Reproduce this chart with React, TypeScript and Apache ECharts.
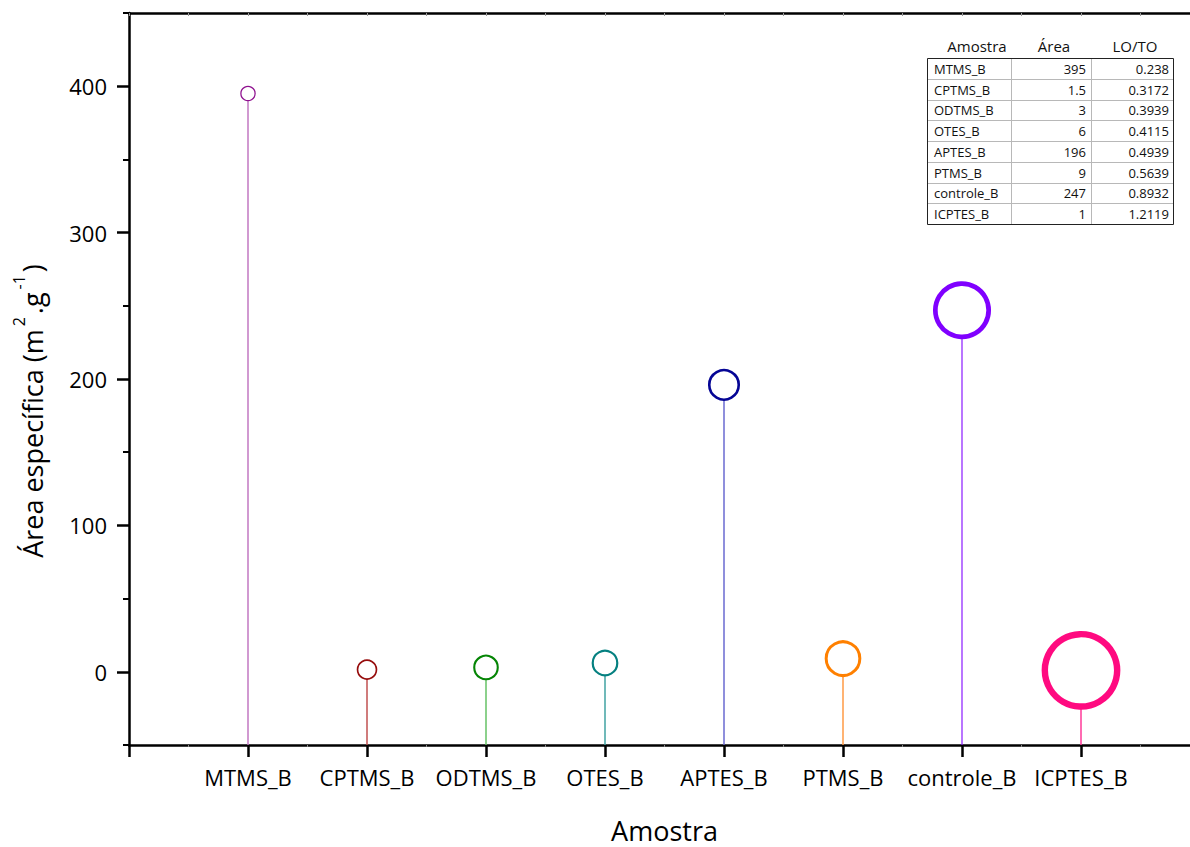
import React, { useEffect, useRef } from "react";
import * as echarts from "echarts";

const categories = ["MTMS_B", "CPTMS_B", "ODTMS_B", "OTES_B", "APTES_B", "PTMS_B", "controle_B", "ICPTES_B"];
const areaValues = [395, 1.5, 3, 6, 196, 9, 247, 1];
const loToValues = [0.238, 0.3172, 0.3939, 0.4115, 0.4939, 0.5639, 0.8932, 1.2119];
const yTickValues = [0, 100, 200, 300, 400];
const yMinorTickValues = [-50, 50, 150, 250, 350, 450];
const tableHeaders = ["Amostra", "Área", "LO/TO"];

const markerColors = ["#8f118f", "#960c0c", "#058505", "#058080", "#050595", "#ff8000", "#8000ff", "#ff0a80"];
const stemColors = ["#c277c2", "#c05050", "#66c266", "#40a2a2", "#6a6ad0", "#ff9a45", "#8a1aff", "#ff3a98"];

const FONT = "'Open Sans', 'Noto Sans', sans-serif";

export default function App() {
  const ref = useRef<HTMLDivElement>(null);

  useEffect(() => {
    if (!ref.current) return;
    const chart = echarts.init(ref.current, null, { renderer: "svg" });

    const scatterData = areaValues.map((v, i) => {
      const lo = loToValues[i];
      const bw = 5.3 * lo;
      const size = 65 * lo - bw;
      return {
        value: [i + 1, v],
        symbolSize: size,
        itemStyle: { color: "#ffffff", borderColor: markerColors[i], borderWidth: bw, opacity: 1 },
      };
    });

    const stemData = areaValues.map((v, i) => [i + 1, v, i]);

    // table graphic
    const tx = [927, 1011, 1091, 1173];
    const ty0 = 58;
    const rh = 20.75;
    const nRows = categories.length;
    const tableEls: any[] = [];
    tableEls.push({
      type: "rect",
      shape: { x: tx[0] + 0.5, y: ty0 + 0.5, width: tx[3] - tx[0], height: rh * nRows },
      style: { fill: "#ffffff", stroke: "#222", lineWidth: 1 },
      z: 100,
    });
    for (let r = 1; r < nRows; r++) {
      const y = Math.round(ty0 + r * rh) + 0.5;
      tableEls.push({
        type: "line",
        shape: { x1: tx[0] + 1, y1: y, x2: tx[3], y2: y },
        style: { stroke: "#b8b8b8", lineWidth: 1 },
        z: 101,
      });
    }
    for (let c = 1; c < 3; c++) {
      tableEls.push({
        type: "line",
        shape: { x1: tx[c] + 0.5, y1: ty0 + 1, x2: tx[c] + 0.5, y2: ty0 + rh * nRows },
        style: { stroke: "#b8b8b8", lineWidth: 1 },
        z: 101,
      });
    }
    tableHeaders.forEach((h, c) => {
      tableEls.push({
        type: "text",
        x: (tx[c] + tx[c + 1]) / 2 + (c === 0 ? 8 : 3),
        y: 46,
        style: { text: h, font: `15px ${FONT}`, fill: "#111", align: "center", verticalAlign: "middle" },
        z: 102,
      });
    });
    categories.forEach((cat, r) => {
      const cy = ty0 + rh * (r + 0.5) + 0.5;
      tableEls.push({
        type: "text",
        x: tx[0] + 7,
        y: cy,
        style: { text: cat, font: `13px ${FONT}`, fill: "#111", align: "left", verticalAlign: "middle" },
        z: 102,
      });
      tableEls.push({
        type: "text",
        x: tx[2] - 5,
        y: cy,
        style: { text: String(areaValues[r]), font: `13px ${FONT}`, fill: "#111", align: "right", verticalAlign: "middle" },
        z: 102,
      });
      tableEls.push({
        type: "text",
        x: tx[3] - 4,
        y: cy,
        style: { text: String(loToValues[r]), font: `13px ${FONT}`, fill: "#111", align: "right", verticalAlign: "middle" },
        z: 102,
      });
    });

    const option: any = {
      animation: false,
      backgroundColor: "#ffffff",
      grid: { left: 129, right: 0, top: 13, bottom: 102, containLabel: false, outerBoundsMode: "none" },
      xAxis: [
        {
          type: "value",
          position: "bottom",
          min: 0,
          max: 9,
          interval: 1,
          splitLine: { show: false },
          axisLine: { show: true, onZero: false, lineStyle: { color: "#000", width: 2.5 } },
          axisTick: { show: true, inside: false, length: 12, lineStyle: { color: "#000", width: 2.5 } },
          minorTick: { show: true, splitNumber: 2, length: 2, lineStyle: { color: "#888", width: 1 } },
          axisLabel: {
            show: true,
            margin: 21,
            fontFamily: FONT,
            fontSize: 22,
            color: "#000",
            showMinLabel: true,
            showMaxLabel: true,
            formatter: (v: number) => {
              const idx = Math.round(v);
              if (Math.abs(v - idx) > 1e-6 || idx < 1 || idx > categories.length) return "";
              return categories[idx - 1];
            },
          },
          name: "Amostra",
          nameLocation: "middle",
          nameGap: 70,
          nameTextStyle: { fontFamily: FONT, fontSize: 27, color: "#000", lineHeight: 30 },
        },
        {
          type: "value",
          position: "top",
          min: 0,
          max: 9,
          interval: 1,
          splitLine: { show: false },
          axisLine: { show: true, onZero: false, lineStyle: { color: "#000", width: 2.5 } },
          axisTick: { show: true, inside: true, length: 3, lineStyle: { color: "#999", width: 1 } },
          minorTick: { show: true, splitNumber: 2, length: 3, lineStyle: { color: "#999", width: 1 } },
          axisLabel: { show: false },
        },
      ],
      yAxis: [
        {
          type: "value",
          position: "left",
          min: -50,
          max: 450,
          splitLine: { show: false },
          axisLine: { show: true, onZero: false, lineStyle: { color: "#000", width: 2.5 } },
          axisTick: { show: true, inside: false, length: 12, customValues: yTickValues, lineStyle: { color: "#000", width: 2.5 } },
          axisLabel: {
            show: true,
            customValues: yTickValues,
            margin: 22,
            fontFamily: FONT,
            fontSize: 22,
            color: "#000",
          },
        },
        {
          type: "value",
          position: "left",
          offset: 0,
          min: -50,
          max: 450,
          splitLine: { show: false },
          axisLine: { show: false },
          axisTick: { show: true, inside: false, length: 6, customValues: yMinorTickValues, lineStyle: { color: "#000", width: 2 } },
          axisLabel: { show: false },
        },
      ],
      graphic: [
        {
          type: "text",
          x: 32,
          y: 411,
          rotation: Math.PI / 2,
          style: {
            text: "{m|Área específica (m}{s|2}{m|.g}{s|-1}{m|)}",
            align: "center",
            verticalAlign: "middle",
            fill: "#000",
            rich: {
              m: { fontFamily: FONT, fontSize: 27, lineHeight: 42, fill: "#000" },
              s: { fontFamily: FONT, fontSize: 16, lineHeight: 16, verticalAlign: "top", fill: "#000", padding: [0, 3, 0, 3] },
            },
          },
          z: 50,
        },
        ...tableEls,
      ],
      series: [
        {
          type: "custom",
          xAxisIndex: 0,
          yAxisIndex: 0,
          z: 2,
          data: stemData,
          renderItem: (params: any, api: any) => {
            const x = api.value(0);
            const y = api.value(1);
            const idx = api.value(2);
            const p1 = api.coord([x, -50]);
            const p2 = api.coord([x, y]);
            return {
              type: "line",
              shape: { x1: p1[0], y1: p1[1], x2: p2[0], y2: p2[1] },
              style: { stroke: stemColors[idx], lineWidth: idx === 6 ? 1.2 : 1.5 },
            };
          },
        },
        {
          type: "scatter",
          xAxisIndex: 0,
          yAxisIndex: 0,
          z: 5,
          symbol: "circle",
          itemStyle: { opacity: 1 },
          data: scatterData,
        },
      ],
    };

    chart.setOption(option);
    return () => chart.dispose();
  }, []);

  return (
    <div style={{ position: "fixed", left: 0, top: 0, width: 1190, height: 847, overflow: "hidden", background: "#fff" }}>
      <div ref={ref} style={{ width: 1200, height: 847 }} />
    </div>
  );
}
